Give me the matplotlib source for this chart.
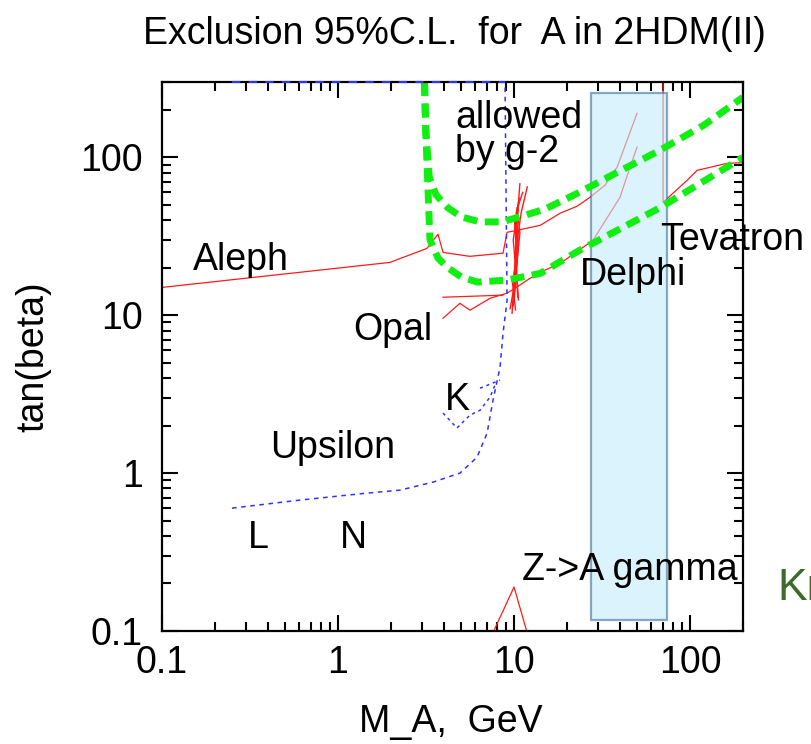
import matplotlib
matplotlib.use('Agg')
import matplotlib.pyplot as plt
import matplotlib.patches as patches
from matplotlib.ticker import LogLocator, NullFormatter

plt.rcParams['font.family'] = ['Liberation Sans', 'DejaVu Sans']

# green g-2 allowed band boundaries
g2_upper_x = [3.1, 3.15, 3.3, 3.6, 4.2, 5.0, 6.4, 8.5, 10.8, 15.0, 22.8, 40.0, 67.6, 120.0, 200.0]
g2_upper_y = [300, 150, 75, 58, 48, 42, 39, 39, 42, 47, 59, 82, 111, 160, 240]
g2_lower_x = [3.1, 3.15, 3.25, 3.33, 3.7, 4.2, 5.0, 6.2, 9.1, 14.1, 23.6, 67.6, 200.0]
g2_lower_y = [300, 150, 60, 30, 23, 20, 17.5, 16.2, 16.7, 18.4, 25.8, 48, 100]

# red exclusion curves
aleph_x = [0.1, 1.97, 3.2, 3.7, 3.95, 5.6, 8.66, 9.13, 10.4, 14.1, 18.3, 22.8, 27.0, 32.9, 38.5, 50.0]
aleph_y = [15, 21.6, 26.5, 32.6, 25, 23.6, 24.7, 33.5, 34.5, 37.1, 44.3, 49, 55.8, 66.6, 86.5, 190]
opal_x = [3.95, 8.66]
opal_y = [13.0, 13.4]
delphi_x = [3.95, 4.93, 5.62, 7.31, 9.13, 10.1, 12.3, 15.0, 18.3, 28.1, 40.0, 44.4, 50.0]
delphi_y = [9.57, 11.9, 10.76, 12.8, 13.8, 14.8, 17.1, 19.3, 21.3, 29.8, 55.8, 79.2, 116]
tevatron_x = [70.3, 70.3, 96.2, 109.6, 162, 200]
tevatron_y = [300, 51.9, 71.5, 82.7, 91.6, 92.5]
zgamma_x = [7.0, 10.0, 12.5]
zgamma_y = [0.08, 0.19, 0.08]
spikes = [
    ([9.75, 10.1, 10.4, 10.8], [10.3, 20, 40, 68]),
    ([10.5, 10.2, 11.0, 11.9], [13, 25, 45, 65]),
    ([9.5, 10.3, 9.9, 10.6, 10.2], [11, 18, 30, 50, 35]),
    ([10.0, 10.6, 10.3, 11.2], [12, 28, 45, 60]),
    ([9.9, 10.4, 10.1, 10.7], [11.5, 22, 38, 55]),
    ([10.2, 9.8, 10.5, 10.0], [10.8, 16, 26, 42]),
    ([10.6, 10.3, 10.8, 10.4], [12.5, 20, 33, 48]),
]

# blue dotted curves (Upsilon / K)
ups_x = [0.25, 0.61, 1.46, 2.25, 3.47, 4.93, 6.16, 7.03, 7.6, 8.33, 8.66, 9.13, 8.89]
ups_y = [0.60, 0.675, 0.747, 0.78, 0.877, 1.0, 1.26, 1.79, 2.9, 4.69, 7.69, 12.4, 300]
ups_top_x = [0.25, 8.89]
ups_top_y = [300, 300]
k_x = [3.95, 4.74, 5.62, 6.41, 7.31, 7.8]
k_y = [2.40, 1.93, 2.33, 2.50, 3.03, 3.61]
k2_x = [6.41, 8.33]
k2_y = [3.45, 3.88]

# Delphi box
box_x = [27.4, 73.9]
box_y = [0.117, 254]

xticks = [0.1, 1, 10, 100]
xticklabels = ['0.1', '1', '10', '100']
yticks = [0.1, 1, 10, 100]
yticklabels = ['0.1', '1', '10', '100']

W, H = 812, 744
fig = plt.figure(figsize=(W / 100, H / 100), dpi=100)
ax = fig.add_axes([162 / W, 1 - 631 / H, (743 - 162) / W, (631 - 82) / H])
ax.set_xscale('log')
ax.set_yscale('log')
ax.set_xlim(0.1, 200)
ax.set_ylim(0.1, 300)

red = '#ff1a1a'
ax.plot(aleph_x, aleph_y, color=red, lw=0.9, zorder=2)
ax.plot(opal_x, opal_y, color=red, lw=0.9, zorder=2)
ax.plot(delphi_x, delphi_y, color=red, lw=0.9, zorder=2)
ax.plot(tevatron_x, tevatron_y, color=red, lw=0.9, zorder=2)
ax.plot(zgamma_x, zgamma_y, color=red, lw=0.9, zorder=2)
for sx, sy in spikes:
    ax.plot(sx, sy, color=red, lw=1.0, zorder=2)

blue = '#3030ff'
ax.plot(ups_x, ups_y, color=blue, lw=1.1, ls=(0, (3, 3)), zorder=2)
ax.plot(ups_top_x, ups_top_y, color=blue, lw=1.5, ls=(0, (4, 4)), zorder=6, clip_on=False)
ax.plot(k_x, k_y, color=blue, lw=1.1, ls=(0, (2, 2.5)), zorder=2)
ax.plot(k2_x, k2_y, color=blue, lw=1.1, ls=(0, (2, 2.5)), zorder=2)

box = patches.Rectangle((box_x[0], box_y[0]), box_x[1] - box_x[0], box_y[1] - box_y[0],
                        facecolor='#c4ecfa', edgecolor='#3f6f9f', lw=1.6, alpha=0.6, zorder=3)
ax.add_patch(box)

green = '#11ee11'
for gx, gy in [(g2_upper_x, g2_upper_y), (g2_lower_x, g2_lower_y)]:
    ax.plot(gx, gy, color=green, lw=5, ls=(0, (2.0, 1.1)), solid_capstyle='butt',
            dash_capstyle='butt', zorder=4)

ax.set_xticks(xticks)
ax.set_xticklabels(xticklabels)
ax.set_yticks(yticks)
ax.set_yticklabels(yticklabels)
ax.xaxis.set_minor_locator(LogLocator(base=10, subs=range(2, 10), numticks=20))
ax.yaxis.set_minor_locator(LogLocator(base=10, subs=range(2, 10), numticks=20))
ax.xaxis.set_minor_formatter(NullFormatter())
ax.yaxis.set_minor_formatter(NullFormatter())
ax.tick_params(which='both', direction='in', top=True, right=True, width=1.5, labelsize=27)
ax.tick_params(which='major', length=11.5)
ax.tick_params(which='minor', length=6.5)
ax.tick_params(axis='y', pad=14)
ax.tick_params(axis='x', pad=10)
for s in ax.spines.values():
    s.set_linewidth(1.6)
    s.set_zorder(5)


def px(x, y):
    return x / W, 1 - y / H


fs = 27
labels = [
    ('Aleph', 193, 270), ('Opal', 353, 340), ('allowed', 455, 128), ('by g-2', 455, 162),
    ('Tevatron', 660, 250), ('Delphi', 580, 285), ('K', 445, 410), ('Upsilon', 270, 458),
    ('L', 248, 548), ('N', 340, 548), ('Z->A gamma', 522, 580),
]
for t, x, y in labels:
    fig.text(*px(x, y), t, fontsize=fs, ha='left', va='baseline', zorder=7)
fig.text(*px(777, 600), 'Kr', fontsize=32, color='#3d6b2a', ha='left', va='baseline')

fig.text(*px(454, 44), 'Exclusion 95%C.L.  for  A in 2HDM(II)', fontsize=27, ha='center',
         va='baseline', family=['Liberation Sans Narrow', 'Liberation Sans', 'DejaVu Sans'])
fig.text(*px(33, 357), 'tan(beta)', fontsize=27, rotation=90, ha='center', va='center')
fig.text(*px(451, 722), 'M_A,  GeV', fontsize=27, ha='center', va='center')

fig.savefig('out.png', dpi=100)
